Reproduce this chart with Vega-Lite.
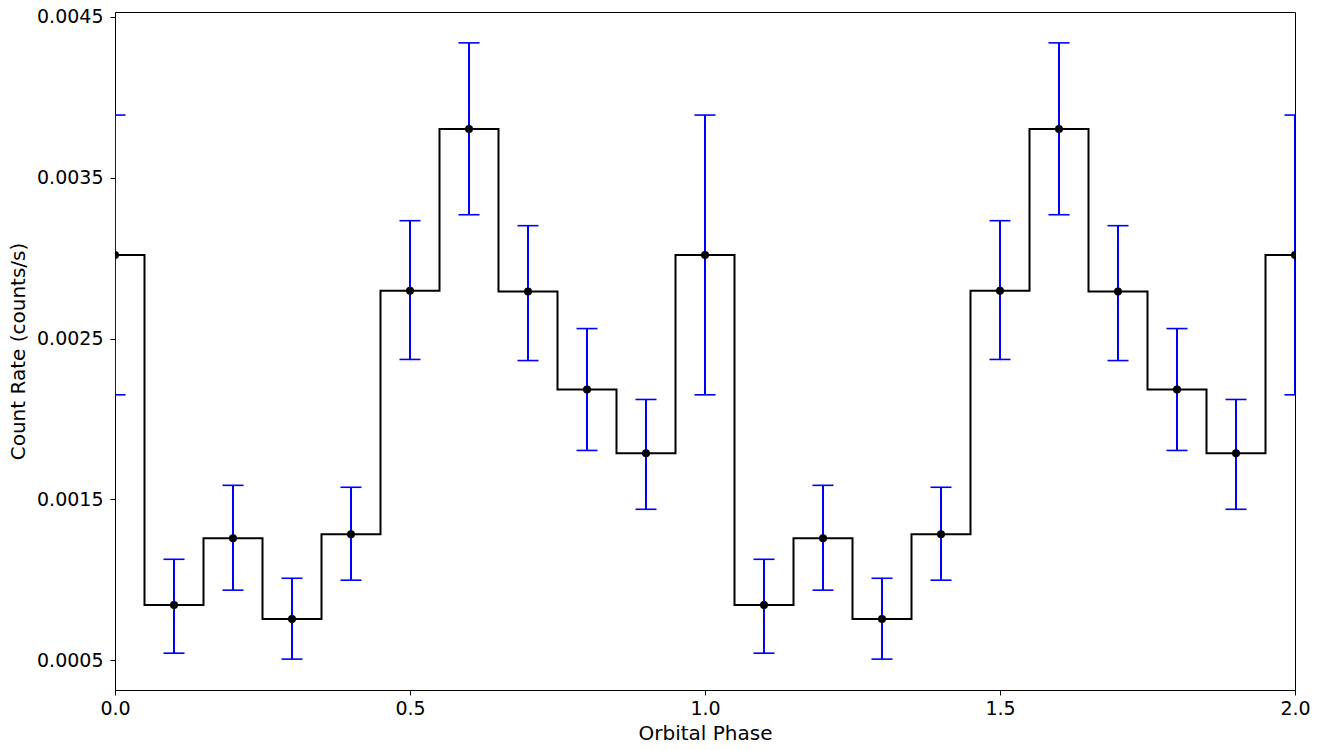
{
  "$schema": "https://vega.github.io/schema/vega-lite/v6.json",
  "width": 1180,
  "height": 678,
  "autosize": "none",
  "padding": {"left": 115, "top": 12, "right": 38, "bottom": 60},
  "background": "white",
  "config": {
    "view": {"stroke": "black", "strokeWidth": 1},
    "font": "DejaVu Sans",
    "axis": {
      "grid": false,
      "domainColor": "black",
      "domainWidth": 1,
      "tickColor": "black",
      "tickSize": 5,
      "tickWidth": 1,
      "labelFont": "DejaVu Sans",
      "labelFontSize": 19,
      "labelColor": "black",
      "titleFont": "DejaVu Sans",
      "titleFontSize": 20,
      "titleFontWeight": "normal",
      "titleColor": "black"
    }
  },
  "data": {
    "values": [
      {"phase": 0.0, "rate": 0.00302, "lo": 0.00215, "hi": 0.00389},
      {"phase": 0.1, "rate": 0.000842, "lo": 0.000543, "hi": 0.001127},
      {"phase": 0.2, "rate": 0.001258, "lo": 0.000935, "hi": 0.001587},
      {"phase": 0.3, "rate": 0.000755, "lo": 0.000506, "hi": 0.001009},
      {"phase": 0.4, "rate": 0.001283, "lo": 0.000997, "hi": 0.001575},
      {"phase": 0.5, "rate": 0.002798, "lo": 0.00237, "hi": 0.003233},
      {"phase": 0.6, "rate": 0.003804, "lo": 0.00327, "hi": 0.004339},
      {"phase": 0.7, "rate": 0.002792, "lo": 0.002363, "hi": 0.003202},
      {"phase": 0.8, "rate": 0.002183, "lo": 0.001804, "hi": 0.002562},
      {"phase": 0.9, "rate": 0.001786, "lo": 0.001438, "hi": 0.002121},
      {"phase": 1.0, "rate": 0.00302, "lo": 0.00215, "hi": 0.00389},
      {"phase": 1.1, "rate": 0.000842, "lo": 0.000543, "hi": 0.001127},
      {"phase": 1.2, "rate": 0.001258, "lo": 0.000935, "hi": 0.001587},
      {"phase": 1.3, "rate": 0.000755, "lo": 0.000506, "hi": 0.001009},
      {"phase": 1.4, "rate": 0.001283, "lo": 0.000997, "hi": 0.001575},
      {"phase": 1.5, "rate": 0.002798, "lo": 0.00237, "hi": 0.003233},
      {"phase": 1.6, "rate": 0.003804, "lo": 0.00327, "hi": 0.004339},
      {"phase": 1.7, "rate": 0.002792, "lo": 0.002363, "hi": 0.003202},
      {"phase": 1.8, "rate": 0.002183, "lo": 0.001804, "hi": 0.002562},
      {"phase": 1.9, "rate": 0.001786, "lo": 0.001438, "hi": 0.002121},
      {"phase": 2.0, "rate": 0.00302, "lo": 0.00215, "hi": 0.00389}
    ]
  },
  "encoding": {
    "x": {
      "field": "phase",
      "type": "quantitative",
      "scale": {"domain": [0, 2], "nice": false, "zero": false},
      "axis": {"title": "Orbital Phase", "values": [0, 0.5, 1, 1.5, 2], "format": ".1f", "labelPadding": 4, "titlePadding": 5, "labelFlush": false}
    }
  },
  "layer": [
    {
      "mark": {"type": "line", "interpolate": "step", "color": "black", "strokeWidth": 2, "clip": true},
      "encoding": {
        "y": {
          "field": "rate",
          "type": "quantitative",
          "scale": {"domain": [0.000314, 0.004531], "nice": false, "zero": false},
          "axis": {"title": "Count Rate (counts/s)", "values": [0.0005, 0.0015, 0.0025, 0.0035, 0.0045], "format": ".4f", "labelPadding": 7, "titlePadding": 8, "labelFlush": false}
        }
      }
    },
    {
      "mark": {"type": "rule", "color": "#0000ff", "strokeWidth": 2, "clip": true},
      "encoding": {
        "y": {"field": "lo", "type": "quantitative"},
        "y2": {"field": "hi"}
      }
    },
    {
      "mark": {"type": "tick", "orient": "horizontal", "color": "#0000ff", "size": 21, "thickness": 1.6, "opacity": 1, "clip": true},
      "encoding": {"y": {"field": "lo", "type": "quantitative"}}
    },
    {
      "mark": {"type": "tick", "orient": "horizontal", "color": "#0000ff", "size": 21, "thickness": 1.6, "opacity": 1, "clip": true},
      "encoding": {"y": {"field": "hi", "type": "quantitative"}}
    },
    {
      "mark": {"type": "point", "filled": true, "color": "black", "size": 64, "opacity": 1, "clip": true},
      "encoding": {"y": {"field": "rate", "type": "quantitative"}}
    }
  ]
}
